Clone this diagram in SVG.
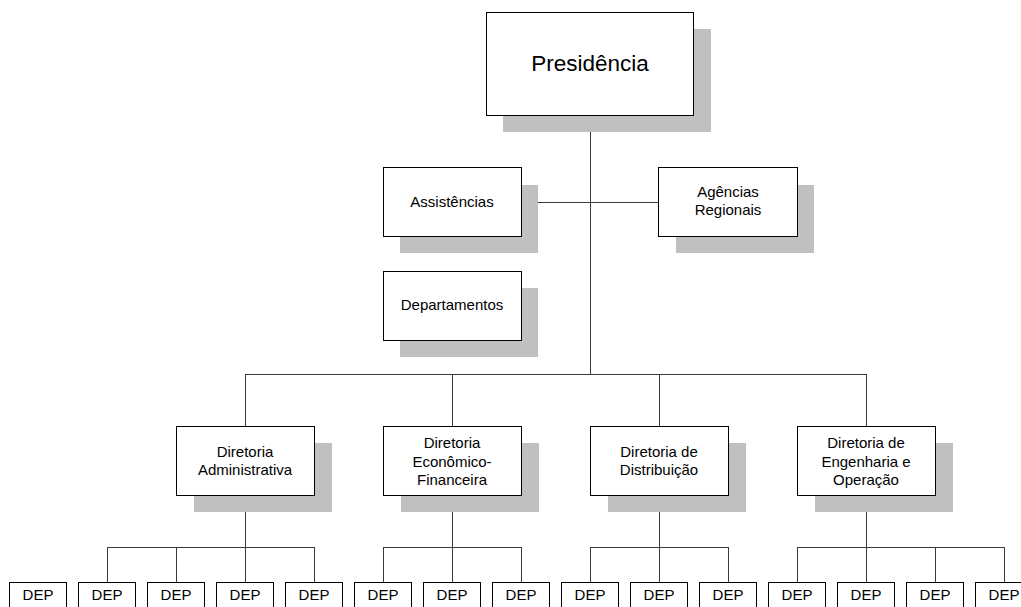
<svg xmlns="http://www.w3.org/2000/svg" width="1021" height="607" viewBox="0 0 1021 607">
  <style>
    .shadow { fill: #c0c0c0; }
    .box { fill: #ffffff; stroke: #000000; stroke-width: 1; }
    .lbl { font-family: "Liberation Sans", Arial, sans-serif; font-size: 15px; fill: #000000; text-anchor: middle; }
    .big { font-size: 22.5px; }
    .wire { fill: none; stroke: #3a3a3a; stroke-width: 1; }
  </style>

  <!-- org-chart connectors -->
  <g id="connectors">
    <path class="wire" d="M590.5 115 V374.5"/>
    <path class="wire" d="M521 202.5 H658"/>
    <path class="wire" d="M245.5 374.5 H866.5"/>
    <path class="wire" d="M245.5 374 V426 M452.5 374 V426 M659.5 374 V426 M866.5 374 V426"/>
    <path class="wire" d="M245.5 495 V582 M452.5 495 V582 M659.5 495 V582 M866.5 495 V582"/>
    <path class="wire" d="M107.5 547.5 H314.5 M383.5 547.5 H521.5 M590.5 547.5 H728.5 M797.5 547.5 H1004.5"/>
    <path class="wire" d="M107.5 547 V582 M176.5 547 V582 M314.5 547 V582 M383.5 547 V582 M521.5 547 V582 M590.5 547 V582 M728.5 547 V582 M797.5 547 V582 M935.5 547 V582 M1004.5 547 V582"/>
  </g>

  <g id="presidencia">
    <rect class="shadow" x="503" y="29" width="208" height="103"/>
    <rect class="box" x="486.5" y="12.5" width="207" height="103"/>
    <text class="lbl big" x="590" y="71">Presidência</text>
  </g>

  <g id="assistencias">
    <rect class="shadow" x="400" y="185" width="138" height="68"/>
    <rect class="box" x="383.5" y="167.5" width="138" height="69"/>
    <text class="lbl" x="452" y="207">Assistências</text>
  </g>

  <g id="agencias">
    <rect class="shadow" x="676" y="185" width="138" height="68"/>
    <rect class="box" x="658.5" y="167.5" width="139" height="69"/>
    <text class="lbl" x="728" y="197">Agências</text>
    <text class="lbl" x="728" y="215">Regionais</text>
  </g>

  <g id="departamentos">
    <rect class="shadow" x="400" y="288" width="138" height="69"/>
    <rect class="box" x="383.5" y="271.5" width="138" height="69"/>
    <text class="lbl" x="452" y="310">Departamentos</text>
  </g>

  <g id="dir-administrativa">
    <rect class="shadow" x="194" y="443" width="138" height="69"/>
    <rect class="box" x="176.5" y="426.5" width="138" height="69"/>
    <text class="lbl" x="245" y="457">Diretoria</text>
    <text class="lbl" x="245" y="475">Administrativa</text>
  </g>

  <g id="dir-economico-financeira">
    <rect class="shadow" x="401" y="443" width="138" height="69"/>
    <rect class="box" x="383.5" y="426.5" width="138" height="69"/>
    <text class="lbl" x="452" y="448">Diretoria</text>
    <text class="lbl" x="452" y="467">Econômico-</text>
    <text class="lbl" x="452" y="485">Financeira</text>
  </g>

  <g id="dir-distribuicao">
    <rect class="shadow" x="608" y="443" width="138" height="69"/>
    <rect class="box" x="590.5" y="426.5" width="138" height="69"/>
    <text class="lbl" x="659" y="457">Diretoria de</text>
    <text class="lbl" x="659" y="475">Distribuição</text>
  </g>

  <g id="dir-engenharia-operacao">
    <rect class="shadow" x="815" y="443" width="138" height="69"/>
    <rect class="box" x="797.5" y="426.5" width="138" height="69"/>
    <text class="lbl" x="866" y="448">Diretoria de</text>
    <text class="lbl" x="866" y="467">Engenharia e</text>
    <text class="lbl" x="866" y="485">Operação</text>
  </g>

  <!-- department boxes along the bottom edge -->
  <g id="dep-01"><rect class="box" x="9.5" y="582.5" width="57" height="40"/><text class="lbl" x="38" y="600">DEP</text></g>
  <g id="dep-02"><rect class="box" x="78.5" y="582.5" width="57" height="40"/><text class="lbl" x="107" y="600">DEP</text></g>
  <g id="dep-03"><rect class="box" x="147.5" y="582.5" width="57" height="40"/><text class="lbl" x="176" y="600">DEP</text></g>
  <g id="dep-04"><rect class="box" x="216.5" y="582.5" width="57" height="40"/><text class="lbl" x="245" y="600">DEP</text></g>
  <g id="dep-05"><rect class="box" x="285.5" y="582.5" width="57" height="40"/><text class="lbl" x="314" y="600">DEP</text></g>
  <g id="dep-06"><rect class="box" x="354.5" y="582.5" width="57" height="40"/><text class="lbl" x="383" y="600">DEP</text></g>
  <g id="dep-07"><rect class="box" x="423.5" y="582.5" width="57" height="40"/><text class="lbl" x="452" y="600">DEP</text></g>
  <g id="dep-08"><rect class="box" x="492.5" y="582.5" width="57" height="40"/><text class="lbl" x="521" y="600">DEP</text></g>
  <g id="dep-09"><rect class="box" x="561.5" y="582.5" width="57" height="40"/><text class="lbl" x="590" y="600">DEP</text></g>
  <g id="dep-10"><rect class="box" x="630.5" y="582.5" width="57" height="40"/><text class="lbl" x="659" y="600">DEP</text></g>
  <g id="dep-11"><rect class="box" x="699.5" y="582.5" width="57" height="40"/><text class="lbl" x="728" y="600">DEP</text></g>
  <g id="dep-12"><rect class="box" x="768.5" y="582.5" width="57" height="40"/><text class="lbl" x="797" y="600">DEP</text></g>
  <g id="dep-13"><rect class="box" x="837.5" y="582.5" width="57" height="40"/><text class="lbl" x="866" y="600">DEP</text></g>
  <g id="dep-14"><rect class="box" x="906.5" y="582.5" width="57" height="40"/><text class="lbl" x="935" y="600">DEP</text></g>
  <g id="dep-15"><rect class="box" x="975.5" y="582.5" width="57" height="40"/><text class="lbl" x="1004" y="600">DEP</text></g>
</svg>
